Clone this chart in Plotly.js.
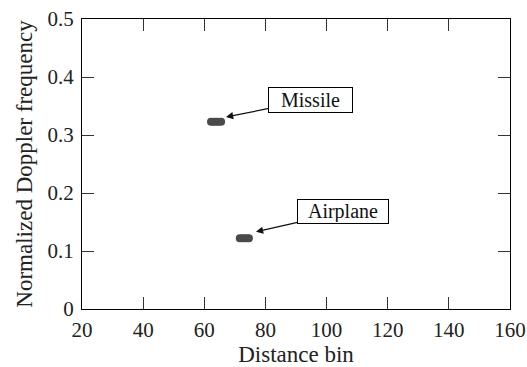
<!DOCTYPE html>
<html>
<head>
<meta charset="utf-8">
<script src="https://cdn.plot.ly/plotly-3.0.1.min.js"></script>
<style>html,body{margin:0;padding:0;background:#fff}#chart{width:527px;height:367px}</style>
</head>
<body>
<div id="chart"></div>
<script>
// Detected targets (distance bin, normalized Doppler frequency)
const missileBins = [62.2, 63, 63.8, 64.6, 65.5];
const missileDoppler = [0.323, 0.323, 0.323, 0.323, 0.323];
const airplaneBins = [71.6, 72.4, 73.2, 74, 74.6];
const airplaneDoppler = [0.122, 0.122, 0.122, 0.122, 0.122];
const xTicks = [20, 40, 60, 80, 100, 120, 140, 160];
const yTicks = [0, 0.1, 0.2, 0.3, 0.4, 0.5];
const yTickText = ['0', '0.1', '0.2', '0.3', '0.4', '0.5'];
const labels = ['Missile', 'Airplane'];
const arrowTips = [[67.1, 0.331], [76.9, 0.133]];

const font = 'Liberation Serif, Times New Roman, serif';
const markStyle = {size: 8, color: '#4a4a4a', symbol: 'circle'};

const data = [
  {x: missileBins, y: missileDoppler, type: 'scatter', mode: 'markers', marker: markStyle, showlegend: false, hoverinfo: 'skip'},
  {x: airplaneBins, y: airplaneDoppler, type: 'scatter', mode: 'markers', marker: markStyle, showlegend: false, hoverinfo: 'skip'}
];

const axisCommon = {
  showgrid: false, zeroline: false, showline: true, linecolor: '#000', linewidth: 1,
  mirror: 'ticks', ticks: 'inside', ticklen: 12, tickwidth: 1, tickcolor: '#333',
  tickfont: {family: font, size: 21, color: '#222'}, automargin: false
};

const layout = {
  width: 527, height: 367,
  margin: {l: 82, r: 17, t: 19, b: 58},
  paper_bgcolor: '#fff', plot_bgcolor: '#fff',
  xaxis: Object.assign({}, axisCommon, {
    range: [20, 160], tickvals: xTicks, ticktext: xTicks.map(String), ticklabelstandoff: 2,
    title: {text: 'Distance bin', font: {family: font, size: 23, color: '#222'}, standoff: 3}
  }),
  yaxis: Object.assign({}, axisCommon, {
    range: [0, 0.5], tickvals: yTicks, ticktext: yTickText, ticklabelstandoff: 3,
    title: {text: 'Normalized Doppler frequency', font: {family: font, size: 23, color: '#222'}, standoff: 8}
  }),
  annotations: [
    {x: arrowTips[0][0], y: arrowTips[0][1], xref: 'x', yref: 'y', text: labels[0],
     showarrow: true, arrowhead: 2, arrowsize: 1.2, arrowwidth: 1.2, arrowcolor: '#111',
     ax: 85, ay: -17, bordercolor: '#000', borderwidth: 1, bgcolor: '#fff',
     width: 81, height: 22, font: {family: font, size: 20, color: '#111'}},
    {x: arrowTips[1][0], y: arrowTips[1][1], xref: 'x', yref: 'y', text: labels[1],
     showarrow: true, arrowhead: 2, arrowsize: 1.2, arrowwidth: 1.2, arrowcolor: '#111',
     ax: 87, ay: -20, bordercolor: '#000', borderwidth: 1, bgcolor: '#fff',
     width: 88, height: 21, font: {family: font, size: 20, color: '#111'}}
  ]
};

Plotly.newPlot('chart', data, layout, {displayModeBar: false, staticPlot: true});
</script>
</body>
</html>
